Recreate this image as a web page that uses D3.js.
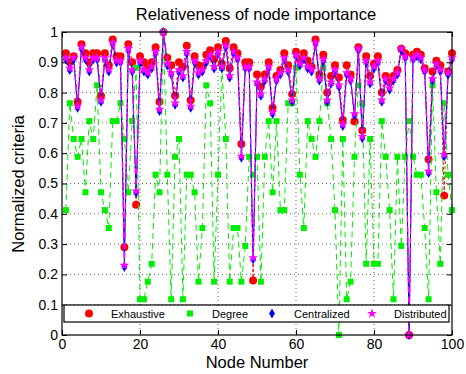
<!DOCTYPE html>
<html>
<head>
<meta charset="utf-8">
<script src="https://cdn.jsdelivr.net/npm/d3@7"></script>
<style>
  body { margin: 0; background: #fff; }
  svg { display: block; font-family: "Liberation Sans", Arial, Helvetica, sans-serif; }
</style>
</head>
<body>
<div id="chart"></div>
<script>
// node ids 1..100
const nodes = d3.range(1, 101);

const exhaustive = [
  0.93, 0.90, 0.92, 0.77, 0.96, 0.93, 0.90, 0.93, 0.93, 0.79,
  0.93, 0.89, 0.975, 0.92, 0.92, 0.29, 0.96, 0.90, 0.43, 0.92,
  0.90, 0.88, 0.90, 0.95, 0.77, 1.00, 0.915, 0.89, 0.79, 0.90,
  0.885, 0.955, 0.775, 0.92, 0.89, 0.885, 0.925, 0.94, 0.91, 0.95,
  0.895, 0.97, 0.88, 0.95, 0.93, 0.63, 0.90, 0.90, 0.18, 0.86,
  0.82, 0.86, 0.90, 0.75, 0.855, 0.875, 0.93, 0.89, 0.795, 0.935,
  0.91, 0.93, 0.905, 0.885, 0.975, 0.86, 0.925, 0.80, 0.855, 0.89,
  0.85, 0.71, 0.89, 0.86, 0.705, 0.95, 0.675, 0.92, 0.855, 0.895,
  0.92, 0.80, 0.855, 0.835, 0.855, 0.875, 0.945, 0.93, 0.00, 0.925,
  0.935, 0.925, 0.88, 0.58, 0.87, 0.905, 0.89, 0.46, 0.87, 0.93
];

const degree = [
  0.412, 0.765, 0.647, 0.588, 0.647, 0.471, 0.706, 0.647, 0.824, 0.471,
  0.412, 0.353, 0.706, 0.706, 0.765, 0.647, 0.471, 0.706, 0.882, 0.118,
  0.118, 0.176, 0.235, 0.529, 0.471, 1.000, 0.529, 0.118, 0.588, 0.647,
  0.118, 0.529, 0.529, 0.471, 0.176, 0.353, 0.824, 0.765, 0.176, 0.529,
  0.882, 0.647, 0.176, 0.353, 0.353, 0.176, 0.294, 0.588, 0.529, 0.588,
  0.176, 0.588, 0.706, 0.471, 0.706, 0.412, 0.412, 0.765, 0.765, 0.882,
  0.529, 0.353, 0.706, 0.647, 0.588, 0.706, 0.882, 0.765, 0.647, 0.412,
  0.000, 0.647, 0.118, 0.176, 0.588, 0.824, 0.765, 0.235, 0.647, 0.235,
  0.235, 0.706, 0.588, 0.412, 0.118, 0.588, 0.294, 0.588, 0.706, 0.588,
  0.529, 0.529, 0.353, 0.118, 0.824, 0.471, 0.235, 0.765, 0.529, 0.412
];

const centralized = [
  0.91, 0.875, 0.91, 0.75, 0.945, 0.91, 0.87, 0.91, 0.91, 0.77,
  0.91, 0.87, 0.96, 0.90, 0.90, 0.225, 0.94, 0.87, 0.47, 0.90,
  0.87, 0.86, 0.88, 0.93, 0.74, 1.00, 0.89, 0.86, 0.76, 0.87,
  0.85, 0.93, 0.75, 0.90, 0.86, 0.87, 0.90, 0.92, 0.88, 0.93,
  0.88, 0.95, 0.85, 0.93, 0.91, 0.585, 0.88, 0.88, 0.25, 0.83,
  0.79, 0.84, 0.88, 0.73, 0.84, 0.86, 0.91, 0.87, 0.77, 0.92,
  0.89, 0.91, 0.88, 0.87, 0.96, 0.84, 0.905, 0.77, 0.83, 0.87,
  0.82, 0.69, 0.86, 0.84, 0.725, 0.94, 0.65, 0.90, 0.83, 0.88,
  0.90, 0.77, 0.84, 0.81, 0.84, 0.86, 0.94, 0.915, 0.00, 0.91,
  0.92, 0.91, 0.87, 0.535, 0.84, 0.89, 0.87, 0.59, 0.86, 0.91
];

const distributed = [
  0.915, 0.88, 0.915, 0.755, 0.95, 0.915, 0.875, 0.915, 0.915, 0.775,
  0.915, 0.875, 0.965, 0.905, 0.905, 0.23, 0.945, 0.875, 0.475, 0.905,
  0.875, 0.865, 0.885, 0.935, 0.745, 1.00, 0.895, 0.865, 0.765, 0.875,
  0.855, 0.935, 0.755, 0.905, 0.865, 0.875, 0.905, 0.925, 0.885, 0.935,
  0.885, 0.955, 0.855, 0.935, 0.915, 0.59, 0.885, 0.885, 0.255, 0.835,
  0.795, 0.845, 0.885, 0.735, 0.845, 0.865, 0.915, 0.875, 0.775, 0.925,
  0.895, 0.915, 0.885, 0.875, 0.965, 0.845, 0.91, 0.775, 0.835, 0.875,
  0.825, 0.695, 0.865, 0.845, 0.73, 0.945, 0.655, 0.905, 0.835, 0.885,
  0.905, 0.775, 0.845, 0.815, 0.845, 0.865, 0.945, 0.92, 0.00, 0.915,
  0.925, 0.915, 0.875, 0.54, 0.845, 0.895, 0.875, 0.595, 0.865, 0.915
];

const seriesNames = ["Exhaustive", "Degree", "Centralized", "Distributed"];
const xTicks = [0, 20, 40, 60, 80, 100];
const yTicks = [0, 0.1, 0.2, 0.3, 0.4, 0.5, 0.6, 0.7, 0.8, 0.9, 1];

const W = 466, H = 374;
const box = { left: 62, right: 452, top: 32, bottom: 335 };

const x = d3.scaleLinear().domain([0, 100]).range([box.left, box.right]);
const y = d3.scaleLinear().domain([0, 1]).range([box.bottom, box.top]);

const svg = d3.select("#chart").append("svg").attr("width", W).attr("height", H);

// dotted grid
const grid = svg.append("g").attr("stroke", "#444").attr("stroke-width", 0.8).attr("stroke-dasharray", "1,3");
grid.selectAll(".gx").data(xTicks.slice(1, -1)).join("line")
  .attr("x1", d => x(d)).attr("x2", d => x(d)).attr("y1", box.top).attr("y2", box.bottom);
grid.selectAll(".gy").data(yTicks.slice(1, -1)).join("line")
  .attr("x1", box.left).attr("x2", box.right).attr("y1", d => y(d)).attr("y2", d => y(d));

// series styles
const styles = [
  { values: exhaustive, color: "#ff0000", dash: "3,2", width: 1, sym: d3.symbolCircle, size: 50 },
  { values: degree, color: "#00ee00", dash: "6,4", width: 1, sym: d3.symbolSquare, size: 36 },
  { values: centralized, color: "#0000ff", dash: null, width: 1, sym: d3.symbolDiamond, size: 30 },
  { values: distributed, color: "#ff00ff", dash: "6,4", width: 1.2, sym: d3.symbolStar, size: 30 }
];

const line = d3.line().x((d, i) => x(nodes[i])).y(d => y(d));

styles.forEach(s => {
  const g = svg.append("g");
  g.append("path").datum(s.values)
    .attr("d", line).attr("fill", "none")
    .attr("stroke", s.color).attr("stroke-width", s.width)
    .attr("stroke-dasharray", s.dash);
  g.selectAll("path.m").data(s.values).join("path").attr("class", "m")
    .attr("transform", (d, i) => `translate(${x(nodes[i])},${y(d)})`)
    .attr("d", d3.symbol(s.sym, s.size)())
    .attr("fill", s.color);
});

// axes with inward ticks
const fmt = d => (d === 0 || d === 1) ? String(d) : d3.format(".1f")(d);
const axB = svg.append("g").attr("transform", `translate(0,${box.bottom})`)
  .call(d3.axisBottom(x).tickValues(xTicks).tickSizeInner(-5).tickSizeOuter(0).tickPadding(4));
const axL = svg.append("g").attr("transform", `translate(${box.left},0)`)
  .call(d3.axisLeft(y).tickValues(yTicks).tickFormat(fmt).tickSizeInner(-5).tickSizeOuter(0).tickPadding(4));
const axT = svg.append("g").attr("transform", `translate(0,${box.top})`)
  .call(d3.axisTop(x).tickValues(xTicks).tickSizeInner(-5).tickSizeOuter(0).tickFormat(""));
const axR = svg.append("g").attr("transform", `translate(${box.right},0)`)
  .call(d3.axisRight(y).tickValues(yTicks).tickSizeInner(-5).tickSizeOuter(0).tickFormat(""));
[axB, axL, axT, axR].forEach(a => {
  a.select(".domain").remove();
  a.selectAll("text").attr("font-size", 14).attr("font-family", "Liberation Sans, Arial, sans-serif").attr("fill", "#000");
});
svg.append("rect").attr("x", box.left).attr("y", box.top)
  .attr("width", box.right - box.left).attr("height", box.bottom - box.top)
  .attr("fill", "none").attr("stroke", "#000").attr("stroke-width", 1.2);

// legend
const lg = svg.append("g");
lg.append("rect").attr("x", 64).attr("y", 305).attr("width", 385).attr("height", 17)
  .attr("fill", "#fff").attr("stroke", "#000").attr("stroke-width", 1.2);
const legendX = [89, 190, 272, 372];
seriesNames.forEach((name, i) => {
  lg.append("path").attr("transform", `translate(${legendX[i]},313.5)`)
    .attr("d", d3.symbol(styles[i].sym, styles[i].size)()).attr("fill", styles[i].color);
  lg.append("text").attr("x", legendX[i] + 22).attr("y", 317.5)
    .attr("font-size", 11).text(name);
});

// titles
svg.append("text").attr("x", 256).attr("y", 20).attr("text-anchor", "middle")
  .attr("font-size", 16.5).text("Relativeness of node importance");
svg.append("text").attr("x", 257).attr("y", 368).attr("text-anchor", "middle")
  .attr("font-size", 16.5).text("Node Number");
svg.append("text").attr("transform", "translate(24,184) rotate(-90)").attr("text-anchor", "middle")
  .attr("font-size", 16.5).text("Normalized criteria");
</script>
</body>
</html>
